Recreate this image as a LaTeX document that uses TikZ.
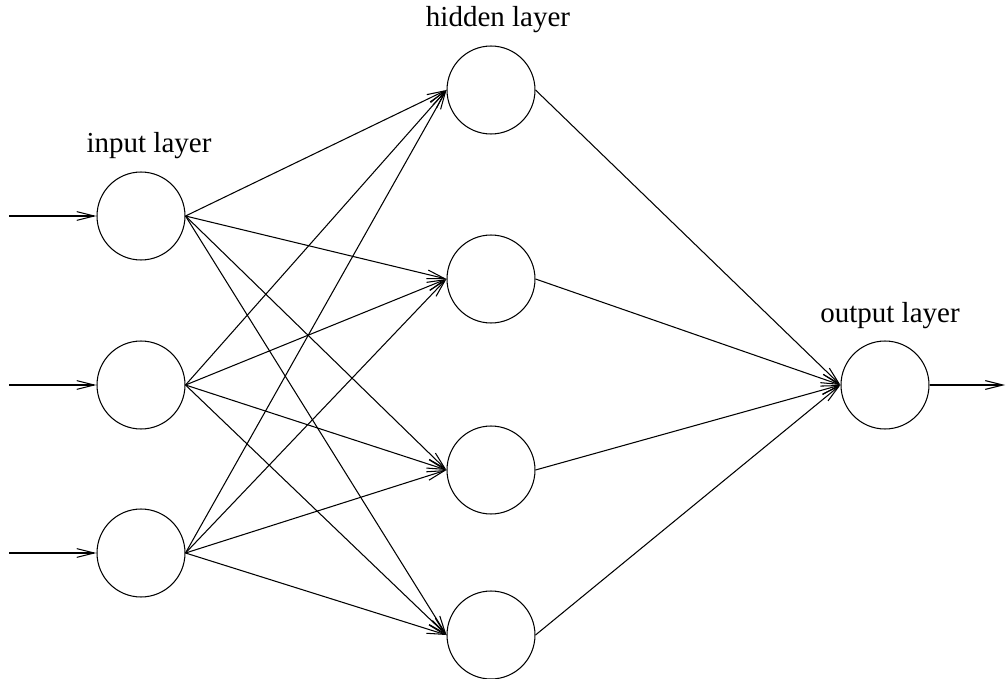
\documentclass[tikz,border=0pt]{standalone}
\usepackage{fontspec}
\setmainfont{Liberation Serif}
\usetikzlibrary{arrows.meta}
\tikzset{
  neuron/.style={draw,circle,minimum size=1.76cm,inner sep=0pt,line width=0.6pt},
  layerlabel/.style={anchor=base,font=\fontsize{16.5}{18}\selectfont},
  >={Straight Barb[length=10pt,width=5pt]}
}

\begin{document}
\begin{tikzpicture}[x=0.02cm,y=-0.02cm,line width=0.6pt]
            \useasboundingbox (0,0) rectangle (1008,679);
            % input layer
            \node[neuron] (i1) at (141,216) {};
            \node[neuron] (i2) at (141,385) {};
            \node[neuron] (i3) at (141,553) {};
            % hidden layer
            \node[neuron] (h1) at (491,90) {};
            \node[neuron] (h2) at (491,279) {};
            \node[neuron] (h3) at (491,470) {};
            \node[neuron] (h4) at (491,635) {};
            % output layer
            \node[neuron] (o) at (885,385) {};
            \node[layerlabel] (inlabel) at (149,153) {input layer};
            \node[layerlabel] (hidlabel) at (498,27) {hidden layer};
            \node[layerlabel] (outlabel) at (890,322) {output layer};
            \coordinate (in1) at (9,216);
            \coordinate (in2) at (9,385);
            \coordinate (in3) at (9,553);
            \coordinate (out) at (1005,385);
            \foreach \i in {1,2,3} {
                \draw[->] (in\i) -- (i\i.west);
                \foreach \h in {1,2,3,4}
                    \draw[->] (i\i.east) -- (h\h.west);
            }
            \foreach \h in {1,2,3,4}
                \draw[->] (h\h.east) -- (o.west);
            \draw[->] (o.east) -- (out);
        \end{tikzpicture}
\end{document}
